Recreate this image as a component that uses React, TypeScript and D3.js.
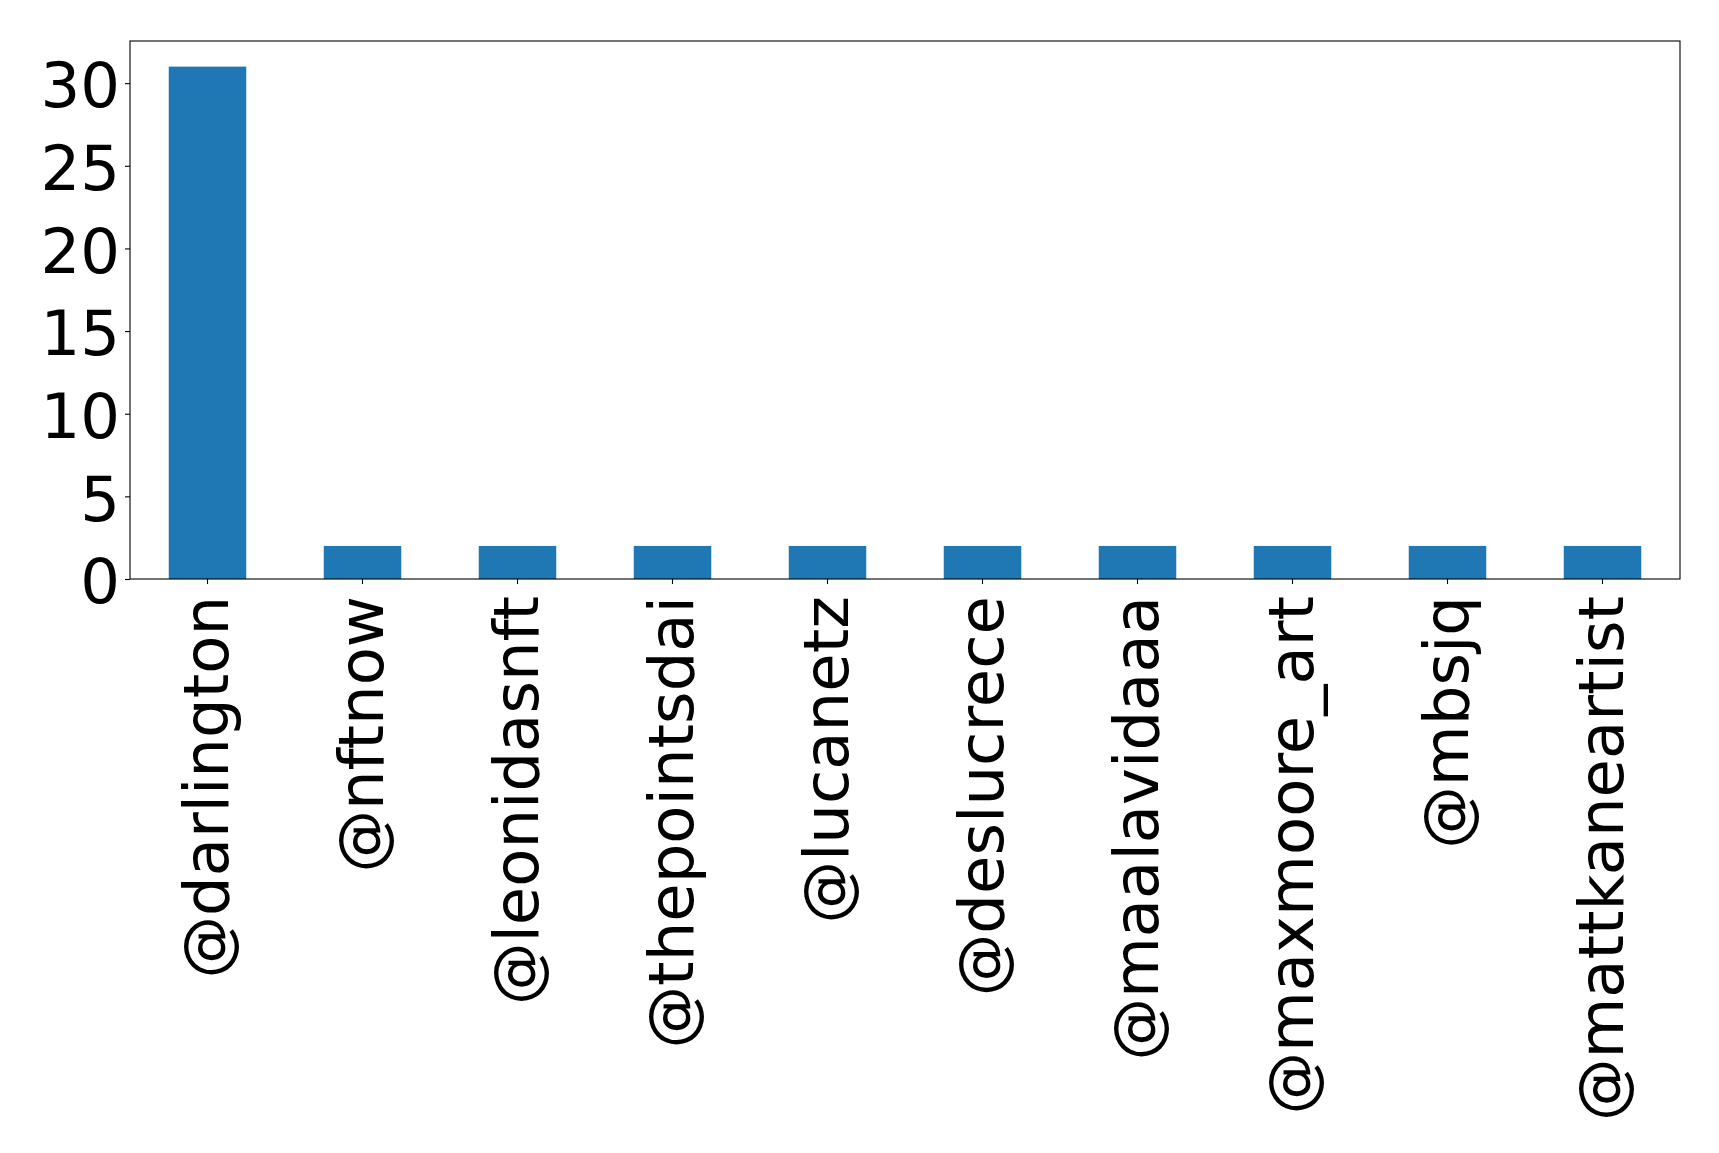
import React, { useRef, useEffect } from 'react'
import * as d3 from 'd3'

// tweeted-handle counts
const handles = [
  '@darlington',
  '@nftnow',
  '@leonidasnft',
  '@thepointsdai',
  '@lucanetz',
  '@deslucrece',
  '@maalavidaaa',
  '@maxmoore_art',
  '@mbsjq',
  '@mattkaneartist'
]
const counts = [31, 2, 2, 2, 2, 2, 2, 2, 2, 2]
const yTicks = [0, 5, 10, 15, 20, 25, 30]

const width = 1719
const height = 1153
const margin = { top: 41, right: 39, bottom: 574, left: 130 }
const fontSize = 62.5
const font = '"DejaVu Sans", sans-serif'

const Chart = () => {
  const svgRef = useRef<SVGSVGElement>(null)

  useEffect(() => {
    const svg = d3.select(svgRef.current)
    svg.selectAll('*').remove()

    const x = d3
      .scaleBand()
      .domain(handles)
      .range([margin.left, width - margin.right])
      .paddingInner(0.5)
      .paddingOuter(0.25)

    const y = d3
      .scaleLinear()
      .domain([0, d3.max(counts) * 1.05])
      .range([height - margin.bottom, margin.top])

    svg
      .append('g')
      .selectAll('rect')
      .data(counts)
      .join('rect')
      .attr('x', (d, i) => x(handles[i]))
      .attr('y', d => y(d))
      .attr('width', x.bandwidth())
      .attr('height', d => y(0) - y(d))
      .attr('fill', '#1f77b4')

    // y axis
    const yAxis = svg
      .append('g')
      .attr('transform', `translate(${margin.left},0)`)
      .call(d3.axisLeft(y).tickValues(yTicks).tickSize(5).tickPadding(5))
    yAxis.select('.domain').remove()
    yAxis.selectAll('line').attr('stroke', '#000').attr('stroke-width', 1.1)
    yAxis
      .selectAll('text')
      .attr('font-size', fontSize)
      .attr('font-family', font)
      .attr('fill', '#000')
      .attr('dy', '0.38em')

    // x axis, labels turned upright
    const xAxis = svg
      .append('g')
      .attr('transform', `translate(0,${height - margin.bottom})`)
      .call(d3.axisBottom(x).tickSize(5).tickSizeOuter(0))
    xAxis.select('.domain').remove()
    xAxis.selectAll('line').attr('stroke', '#000').attr('stroke-width', 1.1)
    xAxis
      .selectAll('text')
      .attr('font-size', fontSize)
      .attr('font-family', font)
      .attr('fill', '#000')
      .attr('text-anchor', 'end')
      .attr('transform', 'rotate(-90)')
      .attr('x', -17)
      .attr('y', 0)
      .attr('dy', '0.32em')

    // frame
    svg
      .append('rect')
      .attr('x', margin.left)
      .attr('y', margin.top)
      .attr('width', width - margin.left - margin.right)
      .attr('height', height - margin.top - margin.bottom)
      .attr('fill', 'none')
      .attr('stroke', '#000')
      .attr('stroke-width', 1.1)
  }, [])

  return (
    <svg
      ref={svgRef}
      viewBox={`0,0,${width},${height}`}
      width={width}
      height={height}
      style={{ position: 'absolute', left: 0, top: 0, background: '#fff' }}
    />
  )
}

export default function App() {
  return <Chart />
}
